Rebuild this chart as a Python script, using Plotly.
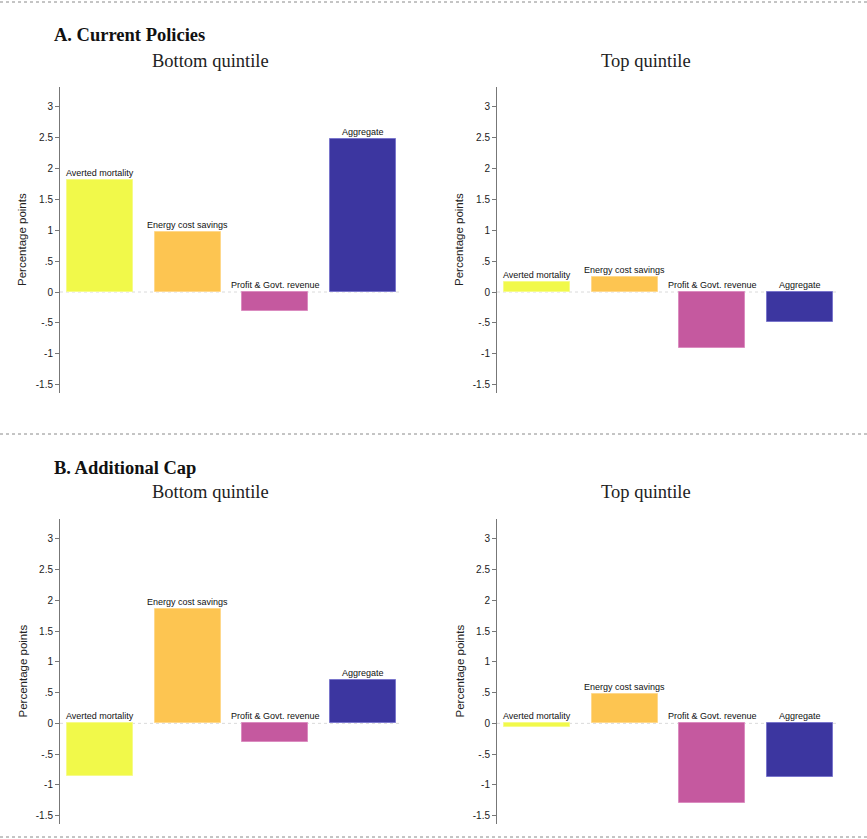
import plotly.graph_objects as go

# Components of the welfare change, in percentage points
categories = ["Averted mortality", "Energy cost savings", "Profit & Govt. revenue", "Aggregate"]
current_bottom = [1.81, 0.98, -0.31, 2.48]
current_top = [0.17, 0.25, -0.91, -0.49]
cap_bottom = [-0.86, 1.855, -0.30, 0.70]
cap_top = [-0.06, 0.47, -1.29, -0.87]

tick_vals = [-1.5, -1, -0.5, 0, 0.5, 1, 1.5, 2, 2.5, 3]
tick_text = ["-1.5", "-1", "-.5", "0", ".5", "1", "1.5", "2", "2.5", "3"]

bar_colors = ["#F1F94A", "#FDC551", "#C5599F", "#3C36A0"]
edge_colors = ["#F6FB8A", "#FED88C", "#DB8CC0", "#7A76CC"]

W, H = 867, 839
serif = "Liberation Serif, Times New Roman, serif"
sans = "Liberation Sans, Arial, Helvetica, sans-serif"

# (values, x-axis id, y-axis id, x domain, y domain)
panels = [
    (current_bottom, "x", "y", [60 / W, 402 / W], [1 - 393 / H, 1 - 87 / H]),
    (current_top, "x2", "y2", [497 / W, 839 / W], [1 - 393 / H, 1 - 87 / H]),
    (cap_bottom, "x3", "y3", [60 / W, 402 / W], [1 - 824 / H, 1 - 519 / H]),
    (cap_top, "x4", "y4", [497 / W, 839 / W], [1 - 824 / H, 1 - 519 / H]),
]

fig = go.Figure()
annotations = []
shapes = []
xpos = list(range(len(categories)))

for vals, xa, ya, xdom, ydom in panels:
    fig.add_trace(go.Bar(
        x=xpos, y=vals, xaxis=xa, yaxis=ya, width=0.75,
        marker=dict(color=bar_colors, line=dict(color=edge_colors, width=1)),
        showlegend=False, hoverinfo="skip",
    ))
    suffix = xa[1:]
    layout_x = "xaxis" + suffix
    layout_y = "yaxis" + suffix
    fig.layout[layout_x] = dict(
        domain=xdom, range=[-0.456, 3.444], visible=False, anchor=ya,
    )
    fig.layout[layout_y] = dict(
        domain=ydom, range=[-1.635, 3.32], anchor=xa,
        tickvals=tick_vals, ticktext=tick_text,
        showline=True, linecolor="#777", linewidth=1,
        ticks="outside", ticklen=4, tickcolor="#777",
        showgrid=False, zeroline=False,
        tickfont=dict(family=sans, size=10, color="#222"),
    )
    # dotted zero reference line
    shapes.append(dict(
        type="line", xref=xa + " domain", yref=ya, x0=0, x1=1, y0=0, y1=0,
        line=dict(color="#DADADA", width=1, dash="dot"), layer="below",
    ))
    # component labels above each bar (or above zero for negative bars)
    for i, (cat, v) in enumerate(zip(categories, vals)):
        annotations.append(dict(
            x=i, y=max(v, 0), xref=xa, yref=ya, text=cat, showarrow=False,
            yanchor="bottom", xanchor="center", yshift=0,
            font=dict(family=sans, size=9, color="#111"),
        ))
    # y-axis title
    ymid = (ydom[0] + ydom[1]) / 2
    annotations.append(dict(
        x=xdom[0] - 38 / W, y=ymid, xref="paper", yref="paper",
        text="Percentage points", textangle=-90, showarrow=False,
        xanchor="center", yanchor="middle",
        font=dict(family=sans, size=11.5, color="#222"),
    ))

# Section headings and panel subtitles
heads = [
    ("<b>A. Current Policies</b>", 52, 35),
    ("<b>B. Additional Cap</b>", 52, 468),
]
for text, px, py in heads:
    annotations.append(dict(
        x=px / W, y=1 - py / H, xref="paper", yref="paper", text=text,
        showarrow=False, xanchor="left", yanchor="middle",
        font=dict(family=serif, size=18.5, color="#111"),
    ))
subs = [
    ("Bottom quintile", 210, 61),
    ("Top quintile", 646, 61),
    ("Bottom quintile", 210, 492),
    ("Top quintile", 646, 492),
]
for text, px, py in subs:
    annotations.append(dict(
        x=px / W, y=1 - py / H, xref="paper", yref="paper", text=text,
        showarrow=False, xanchor="center", yanchor="middle",
        font=dict(family=serif, size=18.5, color="#222"),
    ))

# Dotted separators between sections
for py in [2, 434, 837]:
    shapes.append(dict(
        type="line", xref="paper", yref="paper", x0=0, x1=1,
        y0=1 - py / H, y1=1 - py / H,
        line=dict(color="#8A8A8A", width=1, dash="dot"),
    ))

fig.update_layout(
    width=W, height=H, margin=dict(l=0, r=0, t=0, b=0),
    paper_bgcolor="white", plot_bgcolor="white",
    annotations=annotations, shapes=shapes, bargap=0,
)

fig.write_html("out.html")
